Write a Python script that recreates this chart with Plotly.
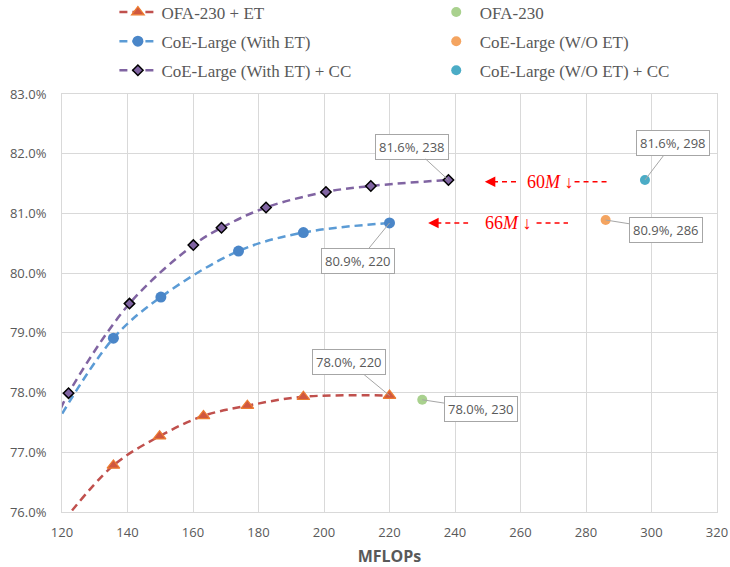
import plotly.graph_objects as go

# ---- data ----
ofa_et_x = [120.5, 135.7, 149.8, 163.2, 176.6, 193.7, 220.0]
ofa_et_y = [75.85, 76.78, 77.27, 77.61, 77.78, 77.93, 77.95]

coe_et_x = [118.0, 135.7, 150.2, 173.9, 193.7, 220.0]
coe_et_y = [77.46, 78.91, 79.60, 80.37, 80.68, 80.84]

coe_cc_x = [118.0, 122.0, 140.6, 160.1, 168.7, 182.3, 200.6, 214.3, 238.0]
coe_cc_y = [77.53, 77.99, 79.49, 80.47, 80.76, 81.10, 81.36, 81.46, 81.56]

ofa230_x, ofa230_y = [230.0], [77.88]
coe_woet_x, coe_woet_y = [286.0], [80.89]
coe_woet_cc_x, coe_woet_cc_y = [298.0], [81.56]

x_ticks = [120, 140, 160, 180, 200, 220, 240, 260, 280, 300, 320]
y_ticks = [76, 77, 78, 79, 80, 81, 82, 83]

# callout labels: text, point (x, y), box centre (x, y)
callout_text = ["81.6%, 238", "80.9%, 220", "78.0%, 220", "78.0%, 230", "81.6%, 298", "80.9%, 286"]
callout_pt = [(238.0, 81.56), (220.0, 80.84), (220.0, 77.95), (230.0, 77.88), (298.0, 81.56), (286.0, 80.89)]
callout_box = [(226.9, 82.12), (210.5, 80.20), (207.6, 78.51), (247.9, 77.73), (306.6, 82.18), (304.3, 80.73)]

# red "saving" arrows: label, y, tip x, left seg end, right seg start, right end, text centre x
saving_text = ["60<i>M</i> ↓", "66<i>M</i> ↓"]
saving_y = [81.53, 80.84]
saving_tip = [249.1, 231.8]
saving_lend = [259.7, 244.0]
saving_rstart = [276.5, 264.9]
saving_rend = [287.2, 274.5]
saving_tx = [269.3, 256.2]

GREY = "#595959"
SERIF = "Liberation Serif"
SANS = "Open Sans"

fig = go.Figure()

def line_trace(x, y, name, lcolor, symbol, mcolor, msize, mline_color, mline_w, legend, group):
    fig.add_trace(go.Scatter(
        x=x, y=y, name=name, mode="lines+markers",
        line=dict(color=lcolor, width=2.5, dash="8px,5px", shape="spline", smoothing=1.0),
        marker=dict(symbol=symbol, color=mcolor, size=msize,
                    line=dict(color=mline_color, width=mline_w)),
        cliponaxis=True, legend=legend, legendgroup=group))

line_trace(ofa_et_x, ofa_et_y, "OFA-230 + ET", "#C0504D", "triangle-up", "#D0573F", 11, "#ED7D31", 1.2, "legend", "a")
line_trace(coe_et_x, coe_et_y, "CoE-Large (With ET)", "#5B9BD5", "circle", "#4A86C8", 11, "#4A86C8", 0, "legend", "b")
line_trace(coe_cc_x, coe_cc_y, "CoE-Large (With ET) + CC", "#8064A2", "diamond", "#8064A2", 8, "#000000", 1.5, "legend", "c")

def point_trace(x, y, name, color, group):
    fig.add_trace(go.Scatter(
        x=x, y=y, name=name, mode="markers",
        marker=dict(symbol="circle", color=color, size=10),
        legend="legend2", legendgroup=group))

point_trace(ofa230_x, ofa230_y, "OFA-230", "#A9D18E", "d")
point_trace(coe_woet_x, coe_woet_y, "CoE-Large (W/O ET)", "#F4A460", "e")
point_trace(coe_woet_cc_x, coe_woet_cc_y, "CoE-Large (W/O ET) + CC", "#4BACC6", "f")

annotations = []
for t, (px, py), (bx, by) in zip(callout_text, callout_pt, callout_box):
    annotations.append(dict(
        x=px, y=py, ax=bx, ay=by, xref="x", yref="y", axref="x", ayref="y",
        text=t, showarrow=True, arrowhead=0, arrowwidth=1, arrowcolor="#A6A6A6",
        standoff=0, bgcolor="white", bordercolor="#A6A6A6", borderwidth=1, borderpad=3,
        font=dict(family=SANS, size=13, color=GREY)))

shapes = []
for t, y, tip, le, rs, re_, tx in zip(saving_text, saving_y, saving_tip, saving_lend,
                                        saving_rstart, saving_rend, saving_tx):
    shapes.append(dict(type="line", xref="x", yref="y", x0=tip + 2.5, x1=le, y0=y, y1=y,
                       line=dict(color="#FF0000", width=1.5, dash="5px,4px")))
    shapes.append(dict(type="line", xref="x", yref="y", x0=rs, x1=re_, y0=y, y1=y,
                       line=dict(color="#FF0000", width=1.5, dash="5px,4px")))
    annotations.append(dict(
        x=tip, y=y, ax=tip + 3.5, ay=y, xref="x", yref="y", axref="x", ayref="y",
        text=" ", showarrow=True, arrowhead=2, arrowsize=1.4, arrowwidth=1.5,
        arrowcolor="#FF0000", standoff=0, font=dict(size=2)))
    annotations.append(dict(
        x=tx, y=y, xref="x", yref="y", text=t, showarrow=False,
        font=dict(family=SERIF, size=18, color="#FF0000")))

legend_common = dict(xanchor="left", yanchor="top", traceorder="grouped", tracegroupgap=4,
                     itemwidth=37,
                     font=dict(family=SERIF, size=17, color=GREY), bgcolor="rgba(0,0,0,0)")

fig.update_layout(
    width=730, height=567,
    margin=dict(l=62, r=13, t=94, b=55, autoexpand=False),
    paper_bgcolor="white", plot_bgcolor="white",
    font=dict(family=SANS, color=GREY),
    showlegend=True,
    legend=dict(x=0.08, y=1.238, **legend_common),
    legend2=dict(x=0.566, y=1.238, **legend_common),
    xaxis=dict(range=[120, 320], tickvals=x_ticks, ticktext=[str(v) for v in x_ticks],
               showgrid=True, gridcolor="#D9D9D9", gridwidth=1, automargin=False,
               showline=True, mirror=True, linecolor="#D9D9D9", linewidth=1,
               zeroline=False, ticks="", ticklabelstandoff=8,
               tickfont=dict(family=SANS, size=13, color=GREY),
               title=dict(text="<b>MFLOPs</b>", font=dict(family=SANS, size=16, color=GREY),
                          standoff=15)),
    yaxis=dict(range=[76, 83], tickvals=y_ticks, ticktext=[f"{v:.1f}%" for v in y_ticks],
               showgrid=True, gridcolor="#D9D9D9", gridwidth=1, automargin=False,
               showline=True, mirror=True, linecolor="#D9D9D9", linewidth=1,
               zeroline=False, ticks="", ticklabelstandoff=12,
               tickfont=dict(family=SANS, size=13, color=GREY)),
    annotations=annotations,
    shapes=shapes,
)

fig.write_html("out.html", config={"displayModeBar": False},
               post_script="document.body.style.margin='0px';")
